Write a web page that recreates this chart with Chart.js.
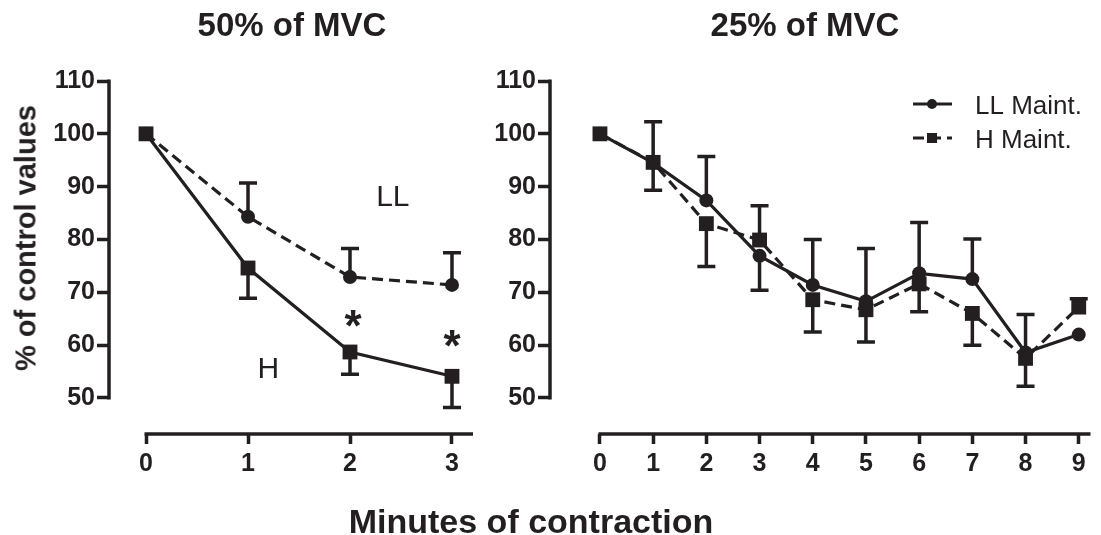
<!DOCTYPE html>
<html>
<head>
<meta charset="utf-8">
<script src="https://cdn.jsdelivr.net/npm/chart.js@4.4.1/dist/chart.umd.min.js"></script>
<style>
  html, body { margin:0; padding:0; background:#ffffff; }
  body { width:1101px; height:535px; overflow:hidden; position:relative; }
  canvas { position:absolute; top:0; }
  #c50 { left:0; }
  #c25 { left:480px; }
  .txt { position:absolute; color:#231f20; font-family:"Liberation Sans", Arial, sans-serif; font-weight:bold; white-space:nowrap; transform:translate(-50%,-50%); }
</style>
</head>
<body>
<canvas id="c50" width="500" height="535"></canvas>
<canvas id="c25" width="621" height="535"></canvas>
<div class="txt" id="title50" style="left:292px; top:25px; font-size:33px;"></div>
<div class="txt" id="title25" style="left:805px; top:25px; font-size:33px;"></div>
<div class="txt" id="ytitle" style="left:26px; top:238px; font-size:29px; transform:translate(-50%,-50%) rotate(-90deg);"></div>
<div class="txt" id="xtitle" style="left:531px; top:521px; font-size:34px;"></div>
<script>
// ---------- data ----------
const panelTitles = ['50% of MVC', '25% of MVC'];
const yAxisTitle = '% of control values';
const xAxisTitle = 'Minutes of contraction';
const seriesLabels = ['LL Maint.', 'H Maint.'];
const yTicks = [50, 60, 70, 80, 90, 100, 110];

// 50% of MVC panel
const minutes50 = [0, 1, 2, 3];
const ll50 = [100, 84.3, 72.9, 71.4];
const ll50ErrUp = [0, 6.4, 5.4, 6.1];
const ll50ErrDown = [0, 0, 0, 0];
const h50 = [100, 74.6, 58.7, 54.1];
const h50ErrUp = [0, 0, 0, 0];
const h50ErrDown = [0, 5.7, 4.2, 5.9];
const notes50 = ['LL', 'H', '*', '*'];
const notes50X = [2.42, 1.2, 2.03, 3.0];
const notes50Y = [86.3, 53.8, 60.8, 57.0];

// 25% of MVC panel
const minutes25 = [0, 1, 2, 3, 4, 5, 6, 7, 8, 9];
const ll25 = [100, 94.5, 87.4, 76.9, 71.4, 68.3, 73.6, 72.5, 58.6, 62.0];
const ll25ErrUp = [0, 7.8, 8.3, 0, 8.6, 10.0, 9.6, 7.6, 7.2, 0];
const ll25ErrDown = [0, 0, 0, 6.5, 0, 0, 0, 0, 0, 0];
const h25 = [100, 94.6, 83.0, 79.9, 68.6, 66.7, 71.6, 66.0, 57.5, 67.2];
const h25ErrUp = [0, 0, 0, 6.5, 0, 0, 0, 0, 0, 1.6];
const h25ErrDown = [0, 5.3, 8.1, 0, 6.1, 6.1, 5.3, 6.0, 5.3, 0];

// ---------- styling ----------
const INK = '#231f20';
const FAMILY = '"Liberation Sans", Arial, sans-serif';

document.getElementById('title50').textContent = panelTitles[0];
document.getElementById('title25').textContent = panelTitles[1];
document.getElementById('ytitle').textContent = yAxisTitle;
document.getElementById('xtitle').textContent = xAxisTitle;

function pts(xs, ys) { return xs.map((x, i) => ({ x: x, y: ys[i] })); }

const detachedAxes = {
  id: 'detachedAxes',
  afterDraw(chart) {
    const { ctx, chartArea, scales } = chart;
    ctx.save();
    ctx.strokeStyle = INK;
    ctx.lineWidth = 3.5;
    ctx.lineCap = 'butt';
    const yTop = scales.y.getPixelForValue(yTicks[yTicks.length - 1]);
    const yBot = scales.y.getPixelForValue(yTicks[0]);
    ctx.beginPath();
    ctx.moveTo(chartArea.left, yTop - 1.5);
    ctx.lineTo(chartArea.left, yBot + 1.5);
    ctx.stroke();
    const xs = chart.options.plugins.detachedAxes.xStart;
    ctx.beginPath();
    ctx.moveTo(scales.x.getPixelForValue(xs) - 1.5, chartArea.bottom);
    ctx.lineTo(chartArea.right, chartArea.bottom);
    ctx.stroke();
    ctx.restore();
  }
};

const errorBars = {
  id: 'errorBars',
  beforeDatasetsDraw(chart) {
    const { ctx, scales } = chart;
    ctx.save();
    ctx.strokeStyle = INK;
    ctx.lineWidth = 3.5;
    ctx.setLineDash([]);
    chart.data.datasets.forEach(ds => {
      ds.data.forEach((p, i) => {
        const px = scales.x.getPixelForValue(p.x);
        const py = scales.y.getPixelForValue(p.y);
        [[ds.errUp[i], 1], [ds.errDown[i], -1]].forEach(([e, s]) => {
          if (!e) return;
          const ey = scales.y.getPixelForValue(p.y + s * e);
          ctx.beginPath();
          ctx.moveTo(px, py);
          ctx.lineTo(px, ey);
          ctx.moveTo(px - 9, ey);
          ctx.lineTo(px + 9, ey);
          ctx.stroke();
        });
      });
    });
    ctx.restore();
  }
};

const notesPlugin = {
  id: 'notes',
  afterDatasetsDraw(chart) {
    const o = chart.options.plugins.notes;
    if (!o || !o.texts) return;
    const { ctx, scales } = chart;
    ctx.save();
    ctx.fillStyle = INK;
    ctx.textAlign = 'center';
    ctx.textBaseline = 'alphabetic';
    o.texts.forEach((t, i) => {
      ctx.font = (t === '*' ? 'bold 44px ' : '30px ') + FAMILY;
      ctx.fillText(t, scales.x.getPixelForValue(o.xs[i]), scales.y.getPixelForValue(o.ys[i]));
    });
    ctx.restore();
  }
};

const legendPlugin = {
  id: 'customLegend',
  afterDraw(chart) {
    const o = chart.options.plugins.customLegend;
    if (!o || !o.show) return;
    const { ctx } = chart;
    ctx.save();
    ctx.strokeStyle = INK;
    ctx.fillStyle = INK;
    ctx.lineWidth = 3;
    const x0 = o.x, rows = [o.y, o.y + 34];
    chart.data.datasets.forEach((ds, i) => {
      const y = rows[i];
      ctx.setLineDash(ds.borderDash || []);
      ctx.beginPath();
      ctx.moveTo(x0, y);
      ctx.lineTo(x0 + 39, y);
      ctx.stroke();
      ctx.setLineDash([]);
      if (ds.pointStyle === 'rect') {
        ctx.fillRect(x0 + 14, y - 5, 10, 10);
      } else {
        ctx.beginPath();
        ctx.arc(x0 + 19, y, 5, 0, Math.PI * 2);
        ctx.fill();
      }
      ctx.font = '26px ' + FAMILY;
      ctx.textBaseline = 'alphabetic';
      ctx.textAlign = 'left';
      ctx.fillText(ds.label, x0 + 62, y + 10);
    });
    ctx.restore();
  }
};

function makeChart(id, cfg) {
  const tickFont = { family: FAMILY, size: 25, weight: 'bold' };
  return new Chart(document.getElementById(id), {
    type: 'line',
    data: { datasets: cfg.datasets },
    options: {
      responsive: false,
      animation: false,
      devicePixelRatio: 1,
      events: [],
      layout: { padding: cfg.padding },
      plugins: {
        legend: { display: false },
        tooltip: { enabled: false },
        detachedAxes: { xStart: cfg.xTicks[0] },
        notes: cfg.notes || {},
        customLegend: cfg.legend || {}
      },
      scales: {
        x: {
          type: 'linear', min: cfg.xMin, max: cfg.xMax,
          afterBuildTicks: s => { s.ticks = cfg.xTicks.map(v => ({ value: v })); },
          afterFit: s => { s.height = 101; },
          border: { display: false },
          grid: { display: true, drawOnChartArea: false, drawTicks: true, tickLength: 10, tickWidth: 3.5, tickColor: INK, color: INK },
          ticks: { color: INK, font: tickFont, padding: 5, maxRotation: 0, autoSkip: false }
        },
        y: {
          type: 'linear', min: 43.18, max: 110,
          afterBuildTicks: s => { s.ticks = yTicks.map(v => ({ value: v })); },
          afterFit: s => { s.width = cfg.yWidth; },
          border: { display: false },
          grid: { display: true, drawOnChartArea: false, drawTicks: true, tickLength: 12, tickWidth: 3.5, tickColor: INK, color: INK },
          ticks: { color: INK, font: tickFont, padding: 2 }
        }
      }
    },
    plugins: [detachedAxes, errorBars, notesPlugin, legendPlugin]
  });
}

function ds(label, xs, ys, up, down, dashed, square) {
  return {
    label: label,
    data: pts(xs, ys),
    errUp: up, errDown: down,
    borderColor: INK, backgroundColor: INK,
    borderWidth: 3.2,
    borderDash: dashed ? [11, 6] : [],
    pointStyle: square ? 'rect' : 'circle',
    pointRadius: square ? 10.5 : 7,
    pointBorderWidth: 0,
    pointBackgroundColor: INK,
    tension: 0,
    clip: false
  };
}

makeChart('c50', {
  datasets: [
    ds(seriesLabels[0], minutes50, ll50, ll50ErrUp, ll50ErrDown, true, false),
    ds(seriesLabels[1], minutes50, h50, h50ErrUp, h50ErrDown, false, true)
  ],
  xTicks: minutes50,
  xMin: -0.363, xMax: 3.206,
  yWidth: 109,
  padding: { top: 81, right: 27, left: 0, bottom: 0 },
  notes: { texts: notes50, xs: notes50X, ys: notes50Y }
});

makeChart('c25', {
  datasets: [
    ds(seriesLabels[0], minutes25, ll25, ll25ErrUp, ll25ErrDown, false, false),
    ds(seriesLabels[1], minutes25, h25, h25ErrUp, h25ErrDown, true, true)
  ],
  xTicks: minutes25,
  xMin: -0.939, xMax: 9.221,
  yWidth: 70,
  padding: { top: 81, right: 0, left: 0, bottom: 0 },
  legend: { show: true, x: 433, y: 104 }
});
</script>
</body>
</html>
